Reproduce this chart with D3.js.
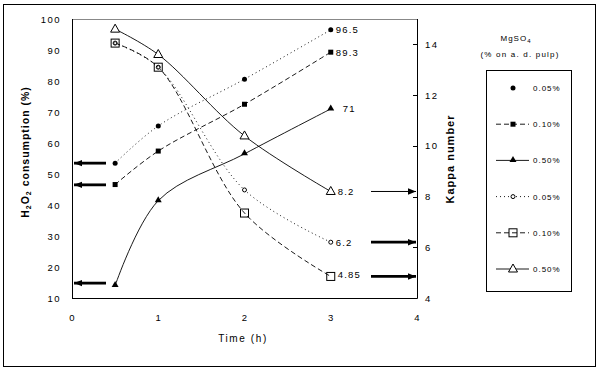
<!DOCTYPE html>
<html>
<head>
<meta charset="utf-8">
<script src="https://cdn.jsdelivr.net/npm/d3@7"></script>
<style>
  body { margin: 0; background: #fff; }
  text { font-family: "Liberation Sans", Arial, sans-serif; fill: #000; }
</style>
</head>
<body>
<div id="chart"></div>
<script>
// time in hours
var time = [0.5, 1, 2, 3];

// H2O2 consumption (%), left axis
var h2o2_005 = [53.5, 65.5, 80.6, 96.5];
var h2o2_010 = [46.6, 57.4, 72.5, 89.3];
var h2o2_050 = [14, 41.4, 56.5, 71];

// kappa number, right axis
var kappa_005 = [14.05, 13.1, 8.26, 6.2];
var kappa_010 = [14.05, 13.1, 7.35, 4.85];
var kappa_050 = [14.6, 13.6, 10.39, 8.2];

var xTicks = [0, 1, 2, 3, 4];
var leftTicks = [10, 20, 30, 40, 50, 60, 70, 80, 90, 100];
var rightTicks = [4, 6, 8, 10, 12, 14];

// end labels
var h2o2Labels = ["96.5", "89.3", "71"];
var kappaLabels = ["8.2", "6.2", "4.85"];

// arrows pointing at the axes (starting values / final values)
var leftArrowVals = [53.5, 46.5, 14.8];
var rightArrowVals = [8.2, 6.2, 4.85];

var legendLabels = ["0.05%", "0.10%", "0.50%", "0.05%", "0.10%", "0.50%"];

var width = 605, height = 370;

var svg = d3.select("#chart").append("svg")
    .attr("width", width)
    .attr("height", height);

var x = d3.scaleLinear().domain([0, 4]).range([72, 417]);
var yL = d3.scaleLinear().domain([10, 100]).range([298, 19]);
var yR = d3.scaleLinear().domain([4, 15]).range([298, 19]);

// outer frame
svg.append("rect")
    .attr("x", 3.5).attr("y", 4.5)
    .attr("width", 592).attr("height", 362)
    .attr("fill", "none").attr("stroke", "#000").attr("stroke-width", 1);

// plot frame
svg.append("line").attr("x1", x(0)).attr("x2", x(4)).attr("y1", 19.5).attr("y2", 19.5)
    .attr("stroke", "#888");
svg.append("line").attr("x1", 72.5).attr("x2", 72.5).attr("y1", 19).attr("y2", 298.5)
    .attr("stroke", "#000");
svg.append("line").attr("x1", 72).attr("x2", 417.5).attr("y1", 298.5).attr("y2", 298.5)
    .attr("stroke", "#000");
svg.append("line").attr("x1", 417.5).attr("x2", 417.5).attr("y1", 19).attr("y2", 298.5)
    .attr("stroke", "#000");

var tickFont = "9.5px";

// x ticks
svg.append("g").selectAll("text").data(xTicks).enter().append("text")
    .attr("x", function(d) { return x(d); })
    .attr("y", 321)
    .attr("text-anchor", "middle")
    .style("font-size", tickFont)
    .text(function(d) { return d; });

// left ticks
svg.append("g").selectAll("text").data(leftTicks).enter().append("text")
    .attr("x", 61)
    .attr("y", function(d) { return yL(d) + 3.5; })
    .attr("text-anchor", "end")
    .style("font-size", tickFont)
    .style("letter-spacing", "1.5px")
    .text(function(d) { return d; });

// right ticks
svg.append("g").selectAll("line").data(rightTicks).enter().append("line")
    .attr("x1", 413).attr("x2", 417)
    .attr("y1", function(d) { return Math.round(yR(d)) + 0.5; })
    .attr("y2", function(d) { return Math.round(yR(d)) + 0.5; })
    .attr("stroke", "#000");
svg.append("g").selectAll("text").data(rightTicks).enter().append("text")
    .attr("x", 425)
    .attr("y", function(d) { return yR(d) + 3.5; })
    .style("font-size", tickFont)
    .style("letter-spacing", "1.5px")
    .text(function(d) { return d; });

// axis titles
svg.append("text")
    .attr("x", 243).attr("y", 342)
    .attr("text-anchor", "middle")
    .style("font-size", "10px")
    .style("letter-spacing", "1.6px")
    .text("Time (h)");

var yt = svg.append("text")
    .attr("transform", "translate(29,152) rotate(-90)")
    .attr("text-anchor", "middle")
    .style("font-size", "10.5px")
    .style("font-weight", "bold")
    .style("letter-spacing", "1px");
yt.append("tspan").text("H");
yt.append("tspan").attr("dy", 2).style("font-size", "7px").text("2");
yt.append("tspan").attr("dy", -2).text("O");
yt.append("tspan").attr("dy", 2).style("font-size", "7px").text("2");
yt.append("tspan").attr("dy", -2).text(" consumption (%)");

svg.append("text")
    .attr("transform", "translate(454,159) rotate(-90)")
    .attr("text-anchor", "middle")
    .style("font-size", "11px")
    .style("font-weight", "bold")
    .style("letter-spacing", "1px")
    .text("Kappa number");

var curve = d3.curveCatmullRom.alpha(0.5);

var series = [
  { vals: h2o2_005, y: yL, dash: "1,3", sym: "dot" },
  { vals: h2o2_010, y: yL, dash: "5,3", sym: "fsquare" },
  { vals: h2o2_050, y: yL, dash: null, sym: "ftri" },
  { vals: kappa_005, y: yR, dash: "1,3", sym: "ocircle" },
  { vals: kappa_010, y: yR, dash: "5,3", sym: "osquare" },
  { vals: kappa_050, y: yR, dash: null, sym: "otri" }
];

function drawSymbol(g, sym, cx, cy) {
  if (sym === "dot") {
    g.append("circle").attr("cx", cx).attr("cy", cy).attr("r", 2.5).attr("fill", "#000");
  } else if (sym === "fsquare") {
    g.append("rect").attr("x", cx - 2.5).attr("y", cy - 2.5).attr("width", 5).attr("height", 5).attr("fill", "#000");
  } else if (sym === "ftri") {
    g.append("path").attr("d", d3.symbol().type(d3.symbolTriangle).size(21)())
      .attr("transform", "translate(" + cx + "," + (cy - 0.5) + ")").attr("fill", "#000");
  } else if (sym === "ocircle") {
    g.append("circle").attr("cx", cx).attr("cy", cy).attr("r", 2).attr("fill", "#fff").attr("stroke", "#000");
  } else if (sym === "osquare") {
    g.append("rect").attr("x", cx - 4).attr("y", cy - 4).attr("width", 8).attr("height", 8)
      .attr("fill", "none").attr("stroke", "#000");
  } else if (sym === "otri") {
    g.append("path").attr("d", "M0,-4.5L4.5,3.5L-4.5,3.5Z")
      .attr("transform", "translate(" + cx + "," + (cy - 0.5) + ")")
      .attr("fill", "#fff").attr("stroke", "#000");
  }
}

var lines = svg.append("g");
series.forEach(function(s) {
  var line = d3.line()
      .x(function(d, i) { return x(time[i]); })
      .y(function(d) { return s.y(d); })
      .curve(curve);
  lines.append("path")
      .attr("d", line(s.vals))
      .attr("fill", "none")
      .attr("stroke", "#000")
      .attr("stroke-width", 0.9)
      .attr("stroke-dasharray", s.dash);
});

// markers drawn in reverse so the small open circles sit on top of the squares
var marks = svg.append("g");
series.slice().reverse().forEach(function(s) {
  s.vals.forEach(function(v, i) {
    drawSymbol(marks, s.sym, x(time[i]), s.y(v));
  });
});
// small dot inside the open squares where the 0.05% kappa points overlap
marks.selectAll(".inner").data([0, 1]).enter().append("circle")
    .attr("cx", function(i) { return x(time[i]); })
    .attr("cy", function(i) { return yR(kappa_005[i]); })
    .attr("r", 1.5).attr("fill", "#fff").attr("stroke", "#000").attr("stroke-width", 0.8);

// end value labels
var lab = svg.append("g").style("font-size", "9.5px").style("letter-spacing", "1.2px");
[h2o2_005, h2o2_010, h2o2_050].forEach(function(vals, i) {
  lab.append("text")
      .attr("x", x(3) + (i === 2 ? 12 : 5))
      .attr("y", yL(vals[3]) + 3.5)
      .text(h2o2Labels[i]);
});
[kappa_050, kappa_005, kappa_010].forEach(function(vals, i) {
  lab.append("text")
      .attr("x", x(3) + (i === 1 ? 5 : 7))
      .attr("y", yR(vals[3]) + (i === 2 ? 1.5 : 3.5))
      .text(kappaLabels[i]);
});

// arrows
var defs = svg.append("defs");
defs.append("marker")
    .attr("id", "ah").attr("viewBox", "0 0 10 10")
    .attr("refX", 10).attr("refY", 5)
    .attr("markerWidth", 8).attr("markerHeight", 8)
    .attr("markerUnits", "userSpaceOnUse")
    .attr("orient", "auto")
  .append("path").attr("d", "M0,1L10,5L0,9Z").attr("fill", "#000");

svg.append("g").selectAll("line").data(leftArrowVals).enter().append("line")
    .attr("x1", 106).attr("x2", 74)
    .attr("y1", function(d) { return yL(d); })
    .attr("y2", function(d) { return yL(d); })
    .attr("stroke", "#000").attr("stroke-width", 2.8)
    .attr("marker-end", "url(#ah)");

svg.append("g").selectAll("line").data(rightArrowVals).enter().append("line")
    .attr("x1", 371).attr("x2", 416)
    .attr("y1", function(d) { return yR(d); })
    .attr("y2", function(d) { return yR(d); })
    .attr("stroke", "#000")
    .attr("stroke-width", function(d, i) { return i === 0 ? 1 : 2.8; })
    .attr("marker-end", "url(#ah)");

// legend
var lt = svg.append("text")
    .attr("x", 516).attr("y", 41)
    .attr("text-anchor", "middle")
    .style("font-size", "8px")
    .style("letter-spacing", "1px");
lt.append("tspan").text("MgSO");
lt.append("tspan").attr("dy", 2).style("font-size", "6px").text("4");

svg.append("text")
    .attr("x", 520).attr("y", 57)
    .attr("text-anchor", "middle")
    .style("font-size", "8px")
    .style("letter-spacing", "1.2px")
    .text("(% on a. d. pulp)");

svg.append("rect")
    .attr("x", 486.5).attr("y", 70.5)
    .attr("width", 85).attr("height", 221)
    .attr("fill", "none").attr("stroke", "#000");

var leg = svg.append("g");
series.forEach(function(s, i) {
  var ly = 88 + i * 36.2;
  if (i !== 0) {
    leg.append("line")
        .attr("x1", 496).attr("x2", 529)
        .attr("y1", ly).attr("y2", ly)
        .attr("stroke", "#000").attr("stroke-width", 0.9)
        .attr("stroke-dasharray", s.dash);
  }
  drawSymbol(leg, s.sym, 513, ly);
  leg.append("text")
      .attr("x", 533).attr("y", ly + 3)
      .style("font-size", "8px")
      .style("letter-spacing", "1px")
      .text(legendLabels[i]);
});
</script>
</body>
</html>
